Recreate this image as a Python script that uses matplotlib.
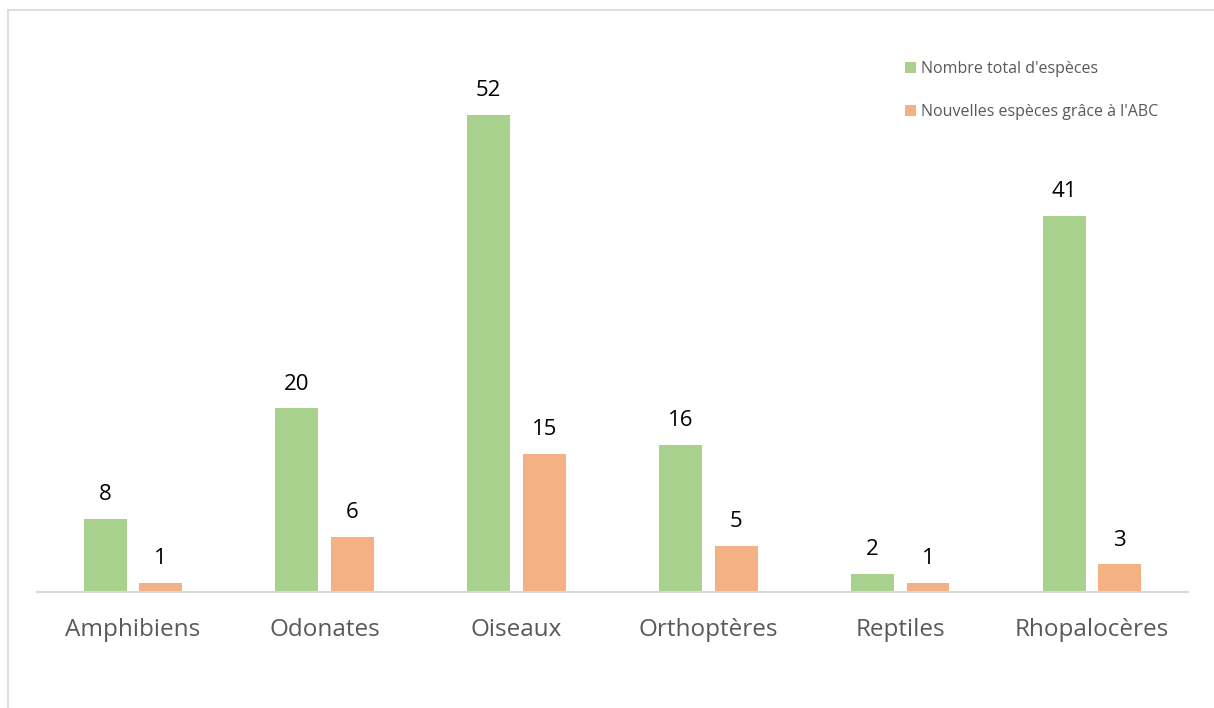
import numpy as np
import matplotlib.pyplot as plt
from matplotlib.lines import Line2D

categories = ["Amphibiens", "Odonates", "Oiseaux", "Orthoptères", "Reptiles", "Rhopalocères"]
total = [8, 20, 52, 16, 2, 41]
nouvelles = [1, 6, 15, 5, 1, 3]

green = "#A9D18E"
orange = "#F4B183"
grey_text = "#595959"

plt.rcParams["font.family"] = ["Open Sans", "DejaVu Sans"]

fig = plt.figure(figsize=(12.14, 7.08), dpi=100)
ax = fig.add_axes([0.0305, 0.1638, 0.948, 0.778])

x = np.arange(len(categories))
w = 0.224
off = 0.145
b1 = ax.bar(x - off, total, w, color=green, label="Nombre total d'espèces")
b2 = ax.bar(x + off, nouvelles, w, color=orange, label="Nouvelles espèces grâce à l'ABC")

for bars, vals in [(b1, total), (b2, nouvelles)]:
    for rect, v in zip(bars, vals):
        ax.annotate(str(v), (rect.get_x() + rect.get_width() / 2, v),
                    xytext=(0, 10), textcoords="offset points",
                    ha="center", va="bottom", fontsize=16, color="black")

ax.set_xlim(-0.5, len(categories) - 0.5)
ax.set_ylim(0, 60)
ax.set_xticks(x)
ax.set_xticklabels(categories, fontsize=17.5, color=grey_text)
ax.tick_params(axis="x", length=0, pad=19)
ax.set_yticks([])
for s in ["top", "right", "left"]:
    ax.spines[s].set_visible(False)
ax.spines["bottom"].set_color("#D9D9D9")
ax.spines["bottom"].set_linewidth(1.5)

leg = ax.legend(loc="upper left", bbox_to_anchor=(0.742, 0.99), frameon=False,
                fontsize=11.5, labelcolor=grey_text, handlelength=0.69, handleheight=0.69,
                handletextpad=0.3, labelspacing=1.67)

# light border of the chart area
fig.add_artist(Line2D([8 / 1214, 1], [1 - 10 / 708, 1 - 10 / 708], color="#D9D9D9", lw=1.2))
fig.add_artist(Line2D([8 / 1214, 8 / 1214], [0, 1 - 10 / 708], color="#D9D9D9", lw=1.2))

fig.savefig("out.png", dpi=100)
